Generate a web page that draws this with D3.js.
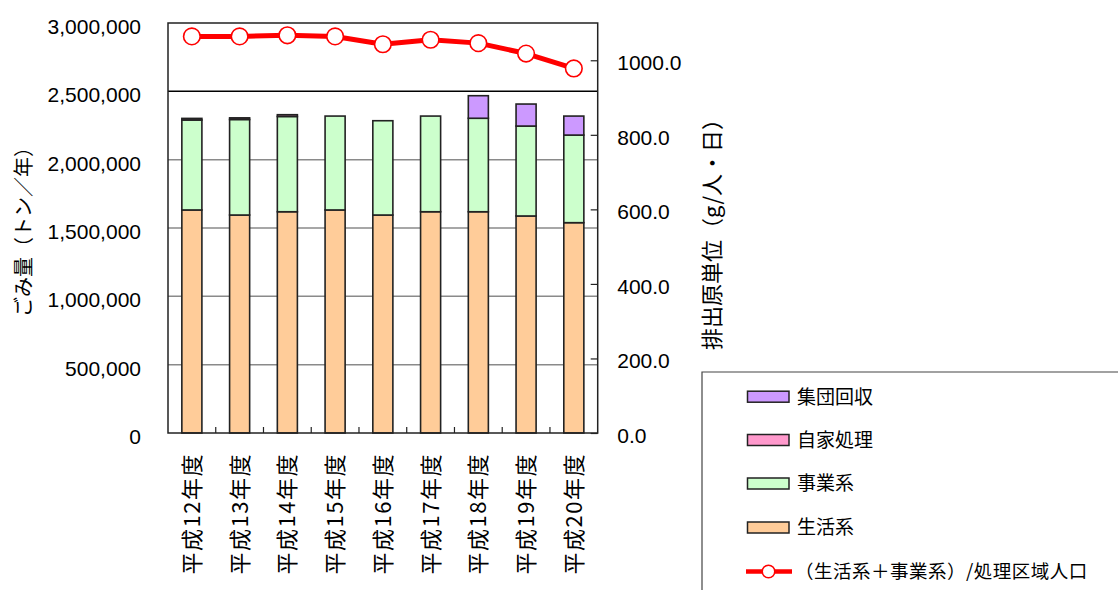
<!DOCTYPE html>
<html><head><meta charset="utf-8">
<script src="https://cdn.jsdelivr.net/npm/d3@7"></script>
<style>
body{margin:0;background:#fff;}
svg{display:block;}
text{font-family:"Liberation Sans",Arial,sans-serif;fill:#000;}
.jp{font-family:"Noto Sans CJK JP","Noto Sans",sans-serif;}
</style></head>
<body><svg id="chart" width="1118" height="590"></svg>
<script>
const categories = ["平成12年度","平成13年度","平成14年度","平成15年度","平成16年度","平成17年度","平成18年度","平成19年度","平成20年度"];
const seikatsu = [1632000,1595000,1619000,1632000,1595000,1619000,1619000,1588000,1539000];
const jigyou   = [658000,699000,697000,687000,690000,700000,684000,658000,641000];
const jika     = [12000,12000,13000,0,0,0,0,0,0];
const shudan   = [0,0,0,0,0,0,165000,161000,139000];
const perCapita = [1064,1064,1067,1064,1043,1055,1046,1018,978];
const leftTicks = [0,500000,1000000,1500000,2000000,2500000,3000000];
const rightTicks = [0,200,400,600,800,1000];
const seriesNames = ["生活系","事業系","自家処理","集団回収"];
const seriesColors = ["#FFCC99","#CCFFCC","#FF99CC","#CC99FF"];
const lineName = "（生活系＋事業系）/処理区域人口";

const svg = d3.select("#chart");
const L=168, R=597.7, T=23, B=433;

const x = d3.scaleBand().domain(categories).range([L,R]).paddingInner(0.58).paddingOuter(0.29);
const y = d3.scaleLinear().domain([0,3000000]).range([B,T]);
const y2 = d3.scaleLinear().domain([0,1100]).range([B,T]);

// gridlines
svg.append("g").selectAll("line").data(leftTicks.filter(d=>d>0&&d<3000000)).join("line")
  .attr("x1",L).attr("x2",R).attr("y1",d=>y(d)).attr("y2",d=>y(d))
  .attr("stroke",d=>d===2500000?"#000":"#8a8a8a").attr("stroke-width",1.5);

// stacked bars
const table = categories.map((c,i)=>({cat:c,"生活系":seikatsu[i],"事業系":jigyou[i],"自家処理":jika[i],"集団回収":shudan[i]}));
const stack = d3.stack().keys(seriesNames)(table);
svg.append("g").selectAll("g").data(stack).join("g")
  .attr("fill",(d,i)=>seriesColors[i])
  .selectAll("rect").data(d=>d.filter(s=>s[1]-s[0]>0)).join("rect")
  .attr("x",d=>x(d.data.cat)).attr("width",x.bandwidth())
  .attr("y",d=>y(d[1])).attr("height",d=>y(d[0])-y(d[1]))
  .attr("stroke","#222").attr("stroke-width",1.6);

// plot frame
svg.append("rect").attr("x",L).attr("y",T).attr("width",R-L).attr("height",B-T)
  .attr("fill","none").attr("stroke","#222").attr("stroke-width",1.5);

// left axis
const yAxis = d3.axisLeft(y).tickValues(leftTicks).tickSize(0).tickPadding(27)
  .tickFormat(d3.format(","));
const ga = svg.append("g").attr("transform",`translate(${L},0)`).call(yAxis);
ga.select(".domain").remove();
ga.selectAll("text").attr("font-size",21).attr("dy","0.5em").attr("font-family","Liberation Sans, Arial, sans-serif");

// right axis
const y2Axis = d3.axisRight(y2).tickValues(rightTicks).tickSize(-7).tickPadding(19.5)
  .tickFormat(d3.format(".1f"));
const gb = svg.append("g").attr("transform",`translate(${R},0)`).call(y2Axis);
gb.select(".domain").remove();
gb.selectAll("line").attr("stroke","#222").attr("stroke-width",1.2);
gb.selectAll("text").attr("font-size",21).attr("dy","0.45em").attr("font-family","Liberation Sans, Arial, sans-serif");

// bottom ticks between categories
const step = x.step();
const bounds = categories.slice(1).map(c=>x(c)+x.bandwidth()/2-step/2);
svg.append("g").selectAll("line").data(bounds).join("line")
  .attr("x1",d=>d).attr("x2",d=>d).attr("y1",B).attr("y2",B-6)
  .attr("stroke","#222").attr("stroke-width",1.2);

// x labels
svg.append("g").selectAll("text").data(categories).join("text")
  .attr("class","jp")
  .attr("transform",d=>`translate(${x(d)+x.bandwidth()/2},453) rotate(-90)`)
  .attr("text-anchor","end").attr("dy","0.36em")
  .attr("font-size",22).attr("letter-spacing","1.5px")
  .text(d=>d);

// axis titles
svg.append("text").attr("class","jp")
  .attr("transform","translate(24,227) rotate(-90)")
  .attr("text-anchor","middle").attr("dy","0.36em").attr("font-size",20)
  .text("ごみ量（トン／年）");
svg.append("text").attr("class","jp")
  .attr("transform","translate(712,229) rotate(-90)")
  .attr("text-anchor","middle").attr("dy","0.36em").attr("font-size",22)
  .text("排出原単位（g/人・日）");

// line
const cx = d=>x(d)+x.bandwidth()/2;
const line = d3.line().x((d,i)=>cx(categories[i])).y(d=>y2(d));
svg.append("path").datum(perCapita).attr("d",line)
  .attr("fill","none").attr("stroke","#FF0000").attr("stroke-width",5).attr("stroke-linejoin","round");
svg.append("g").selectAll("circle").data(perCapita).join("circle")
  .attr("cx",(d,i)=>cx(categories[i])).attr("cy",d=>y2(d)).attr("r",8.3)
  .attr("fill","#fff").attr("stroke","#FF0000").attr("stroke-width",1.6);

// legend
const lg = svg.append("g");
lg.append("path").attr("d","M702,600 V372 H1130").attr("fill","none").attr("stroke","#444").attr("stroke-width",1.2);
const legendItems = [
  {name:"集団回収",color:"#CC99FF",y:396.7},
  {name:"自家処理",color:"#FF99CC",y:440},
  {name:"事業系",color:"#CCFFCC",y:483.5},
  {name:"生活系",color:"#FFCC99",y:527.5}
];
legendItems.forEach(it=>{
  lg.append("rect").attr("x",747.5).attr("y",it.y-5.5).attr("width",41.5).attr("height",11)
    .attr("fill",it.color).attr("stroke","#222").attr("stroke-width",1.5);
  lg.append("text").attr("class","jp").attr("x",797).attr("y",it.y).attr("dy","0.36em")
    .attr("font-size",19).text(it.name);
});
lg.append("line").attr("x1",746).attr("x2",792).attr("y1",571.5).attr("y2",571.5)
  .attr("stroke","#FF0000").attr("stroke-width",4.5);
lg.append("circle").attr("cx",768.5).attr("cy",571.5).attr("r",6.3)
  .attr("fill","#fff").attr("stroke","#FF0000").attr("stroke-width",1.6);
lg.append("text").attr("class","jp").attr("x",795).attr("y",571.5).attr("dy","0.36em")
  .attr("font-size",18.5).attr("letter-spacing","0.5px").text(lineName);
</script></body></html>
